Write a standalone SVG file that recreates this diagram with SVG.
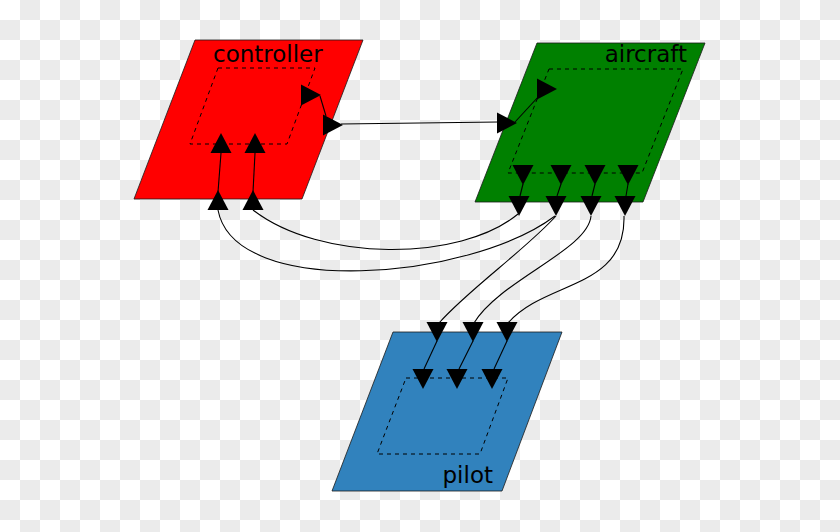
<svg xmlns="http://www.w3.org/2000/svg" xmlns:xlink="http://www.w3.org/1999/xlink" width="840" height="532" viewBox="0 0 840 532">
<style>
.plane{stroke:#1a1a1a;stroke-width:0.8}
.inner{fill:none;stroke:#000;stroke-width:1;stroke-dasharray:4,4}
.lbl{font-family:"DejaVu Sans",sans-serif;font-size:23px;fill:#000}
.wire{fill:none;stroke:#000;stroke-width:1.1}
.tri{fill:#000}
</style>
<defs>
<pattern id="checker" patternUnits="userSpaceOnUse" width="40" height="40">
<rect width="40" height="40" fill="#ffffff"/>
<rect x="20" y="0" width="20" height="20" fill="#ebebeb"/>
<rect x="0" y="20" width="20" height="20" fill="#ebebeb"/>
</pattern>
<path id="tr" class="tri" d="M0,0 L-20,-10.5 L-20,10.5 Z"/>
</defs>
<rect width="840" height="532" fill="url(#checker)"/>

<g id="controller">
<polygon class="plane" fill="#ff0000" points="195,40 363,40 302,199 134,199"/>
<polygon class="inner" points="218,68 315,68 287,144 190,144"/>
<text class="lbl" x="213" y="62">controller</text>
</g>

<g id="aircraft">
<polygon class="plane" fill="#008000" points="537,43 705,43 643,202 475,202"/>
<polygon class="inner" points="549,69 683,69 642,173 508,173"/>
<text class="lbl" x="687" y="62" text-anchor="end">aircraft</text>
</g>

<g id="pilot">
<polygon class="plane" fill="#3182bd" points="393,332 562,332 502,491 332,491"/>
<polygon class="inner" points="406,378 508,378 480,454 377,454"/>
<text class="lbl" x="493" y="483" text-anchor="end">pilot</text>
</g>

<g id="connectors">
<path class="wire" d="M218,192 L221,153"/>
<path class="wire" d="M253,192 L255,153"/>
<path class="wire" d="M320,96 L326,116"/>
<path class="wire" d="M341,124 L498,122"/>
<path class="wire" d="M515,122 L539,96"/>
<path class="wire" d="M523,184 L520,196"/>
<path class="wire" d="M561,184 L557,196"/>
<path class="wire" d="M595,184 L592,196"/>
<path class="wire" d="M628,184 L626,196"/>
<path class="wire" d="M437,341 L424,369"/>
<path class="wire" d="M473,341 L459,369"/>
<path class="wire" d="M507,341 L494,369"/>
<path class="wire" d="M518,214 C460,262 320,262 253,210"/>
<path class="wire" d="M555,216 C470,280 235,300 218,210"/>
<path class="wire" d="M556,216 C525,250 468,290 439,323"/>
<path class="wire" d="M591,216 C588,250 500,280 474,323"/>
<path class="wire" d="M624,216 C626,290 545,280 508,323"/>

<use xlink:href="#tr" transform="translate(321,95)"/>
<use xlink:href="#tr" transform="translate(343,125)"/>
<use xlink:href="#tr" transform="translate(517,123)"/>
<use xlink:href="#tr" transform="translate(557,89)"/>

<use xlink:href="#tr" transform="translate(218,190) rotate(-90)"/>
<use xlink:href="#tr" transform="translate(253,190) rotate(-90)"/>
<use xlink:href="#tr" transform="translate(221,133) rotate(-90)"/>
<use xlink:href="#tr" transform="translate(255,133) rotate(-90)"/>

<use xlink:href="#tr" transform="translate(523,185) rotate(90)"/>
<use xlink:href="#tr" transform="translate(561,185) rotate(90)"/>
<use xlink:href="#tr" transform="translate(595,185) rotate(90)"/>
<use xlink:href="#tr" transform="translate(628,185) rotate(90)"/>
<use xlink:href="#tr" transform="translate(519,216) rotate(90)"/>
<use xlink:href="#tr" transform="translate(556,216) rotate(90)"/>
<use xlink:href="#tr" transform="translate(591,216) rotate(90)"/>
<use xlink:href="#tr" transform="translate(625,216) rotate(90)"/>

<use xlink:href="#tr" transform="translate(437,342) rotate(90)"/>
<use xlink:href="#tr" transform="translate(473,342) rotate(90)"/>
<use xlink:href="#tr" transform="translate(507,342) rotate(90)"/>
<use xlink:href="#tr" transform="translate(423,389) rotate(90)"/>
<use xlink:href="#tr" transform="translate(457,389) rotate(90)"/>
<use xlink:href="#tr" transform="translate(492,389) rotate(90)"/>
</g>
</svg>
